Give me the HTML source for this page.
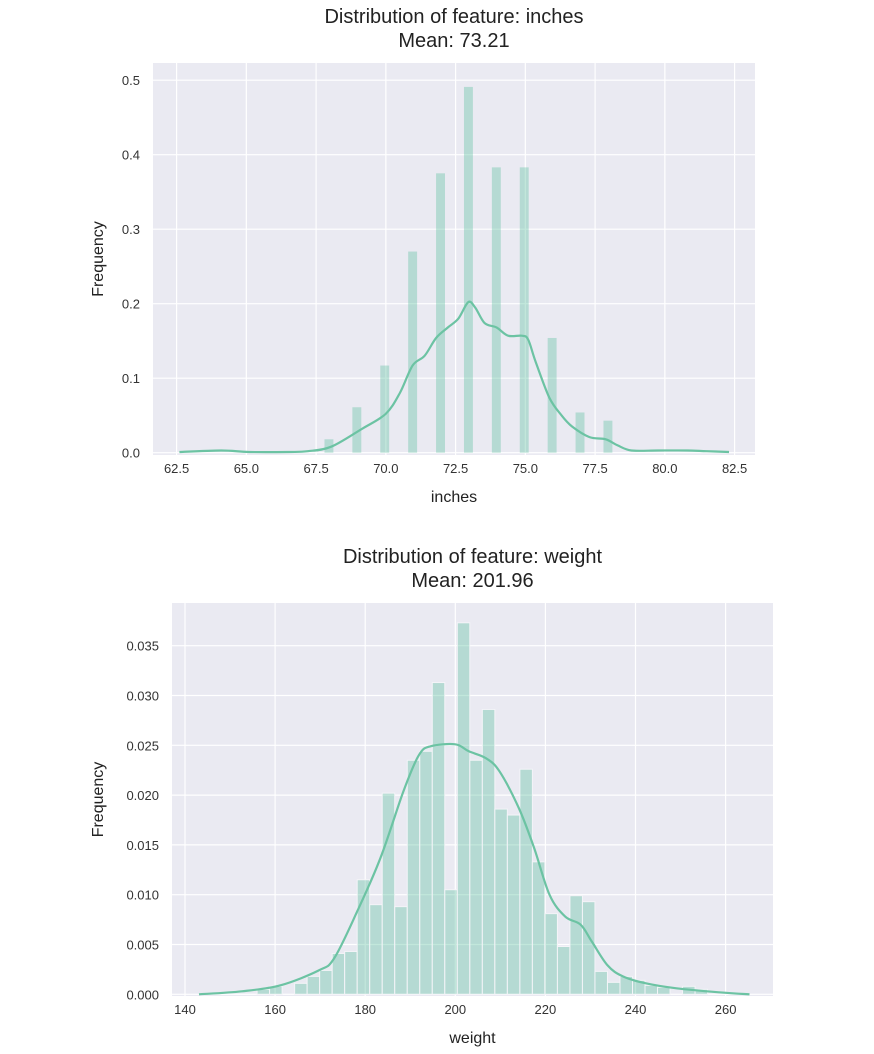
<!DOCTYPE html>
<html><head><meta charset="utf-8">
<style>
html,body{margin:0;padding:0;background:#fff;}
svg{display:block;font-family:"Liberation Sans",Arial,sans-serif;}
</style></head>
<body>
<svg id="chart" width="874" height="1054" viewBox="0 0 874 1054" xmlns="http://www.w3.org/2000/svg"></svg>
<script>
// ---- Chart 1 data (inches) ----
const inchesBins = [68,69,70,71,72,73,74,75,76,77,78];
const inchesHeights = [0.018,0.061,0.117,0.27,0.375,0.491,0.383,0.383,0.154,0.054,0.043];
const inchesKdeX = [62.6,64.1,65.1,66.5,67.2,68.04,69.14,69.99,70.5,70.96,71.39,71.8,72.22,72.6,72.95,73.2,73.54,73.97,74.38,74.87,75.1,75.36,75.86,76.3,76.68,77.3,77.88,78.3,78.8,79.75,80.8,81.5,82.3];
const inchesKdeY = [0.001,0.003,0.001,0.001,0.002,0.008,0.032,0.052,0.08,0.117,0.13,0.154,0.168,0.18,0.202,0.195,0.174,0.168,0.157,0.157,0.152,0.123,0.074,0.05,0.035,0.021,0.018,0.01,0.003,0.003,0.003,0.002,0.001];
const inchesXTicks = [62.5,65.0,67.5,70.0,72.5,75.0,77.5,80.0,82.5];
const inchesYTicks = [0.0,0.1,0.2,0.3,0.4,0.5];
const inchesYTickLabels = ["0.0","0.1","0.2","0.3","0.4","0.5"];

// ---- Chart 2 data (weight) ----
const weightBinStart = 156;
const weightBinWidth = 100/36;
const weightHeights = [0.0005,0.0008,0,0.0011,0.0018,0.0024,0.0041,0.0043,0.0115,0.009,0.0202,0.0088,0.0235,0.0244,0.0313,0.0105,0.0373,0.0235,0.0286,0.0186,0.018,0.0226,0.0133,0.0081,0.0048,0.0099,0.0093,0.0023,0.0012,0.0018,0.0014,0.0009,0.0007,0,0.0008,0.0005];
const weightKdeX = [143.1,152.6,161.2,169.7,173.1,178.2,183.4,188.5,191.9,194.5,200.0,203.0,206.8,209.8,214.1,217.5,220.9,224.4,227.8,230.3,233.8,237.2,242.3,249.1,258.5,265.3];
const weightKdeY = [0,0.0003,0.0009,0.0024,0.0036,0.0083,0.0137,0.0204,0.024,0.0249,0.0251,0.0244,0.0237,0.0224,0.0187,0.0147,0.01,0.0078,0.007,0.0053,0.0029,0.0018,0.0011,0.0006,0.0002,0];
const weightXTicks = [140,160,180,200,220,240,260];
const weightYTicks = [0,0.005,0.01,0.015,0.02,0.025,0.03,0.035];
const weightYTickLabels = ["0.000","0.005","0.010","0.015","0.020","0.025","0.030","0.035"];

const NS = "http://www.w3.org/2000/svg";
const svg = document.getElementById('chart');
function mk(tag, attrs, parent, text){
  const e = document.createElementNS(NS, tag);
  for (const k in attrs) e.setAttribute(k, attrs[k]);
  if (text !== undefined) e.textContent = text;
  (parent||svg).appendChild(e);
  return e;
}
function smoothPath(pts){
  let d = 'M' + pts[0][0].toFixed(1) + ' ' + pts[0][1].toFixed(1);
  for (let i = 0; i < pts.length - 1; i++){
    const p0 = pts[i-1] || pts[i], p1 = pts[i], p2 = pts[i+1], p3 = pts[i+2] || p2;
    const c1x = p1[0] + (p2[0]-p0[0])/6, c1y = p1[1] + (p2[1]-p0[1])/6;
    const c2x = p2[0] - (p3[0]-p1[0])/6, c2y = p2[1] - (p3[1]-p1[1])/6;
    d += ' C' + c1x.toFixed(1)+' '+c1y.toFixed(1)+' '+c2x.toFixed(1)+' '+c2y.toFixed(1)+' '+p2[0].toFixed(1)+' '+p2[1].toFixed(1);
  }
  return d;
}

function drawChart(cfg){
  const g = mk('g', {});
  
  
  const sx = v => cfg.x0px + (v - cfg.x0val) * cfg.pxPerX;
  const sy = v => cfg.y0px - v * cfg.pxPerY;
  const bg = mk('rect', {x:cfg.left, y:cfg.top, width:cfg.right-cfg.left, height:cfg.bottom-cfg.top, fill:'#eaeaf2'}, g);
  
  
  cfg.xTicks.forEach((t) => {
    const l = mk('line', {x1:sx(t), x2:sx(t), y1:cfg.top, y2:cfg.bottom, stroke:'#fff', 'stroke-width':1.2}, g);
    
    
    const tx = mk('text', {x:sx(t), y:cfg.bottom+18, 'text-anchor':'middle', 'font-size':13, fill:'#333'}, g, cfg.xFmt(t));
    
    
  });
  cfg.yTicks.forEach((t,i) => {
    const l = mk('line', {x1:cfg.left, x2:cfg.right, y1:sy(t), y2:sy(t), stroke:'#fff', 'stroke-width':1.2}, g);
    
    
    const tx = mk('text', {x:cfg.left-13, y:sy(t)+5, 'text-anchor':'end', 'font-size':13, fill:'#333'}, g, cfg.yLabels[i]);
    
    
  });
  cfg.bars.forEach(b => {
    if (b.h <= 0) return;
    const r = mk('rect', {x:sx(b.x0), y:sy(b.h), width:sx(b.x1)-sx(b.x0), height:sy(0)-sy(b.h), fill:'rgba(102,194,165,0.4)', stroke:cfg.barStroke, 'stroke-width':cfg.barStroke==='none'?0:1}, g);
    
    
  });
  const pts = cfg.kdeX.map((x,i) => [sx(x), sy(cfg.kdeY[i])]);
  const p = mk('path', {d:smoothPath(pts), fill:'none', stroke:'#6cc3a3', 'stroke-width':2.2, 'stroke-linejoin':'round'}, g);
  
  
  const cx = (cfg.left+cfg.right)/2;
  const t1 = mk('text', {x:cx, y:cfg.top-40, 'text-anchor':'middle', 'font-size':20, fill:'#222'}, g, cfg.title1);
  
  
  const t2 = mk('text', {x:cx, y:cfg.top-16, 'text-anchor':'middle', 'font-size':20, fill:'#222'}, g, cfg.title2);
  
  
  const xl = mk('text', {x:cx, y:cfg.bottom+47, 'text-anchor':'middle', 'font-size':16, fill:'#222'}, g, cfg.xLabel);
  
  
  const ym = (cfg.top+cfg.bottom)/2;
  const yl = mk('text', {x:cfg.yLabelX, y:ym, 'text-anchor':'middle', 'font-size':16, fill:'#222', transform:'rotate(-90 '+cfg.yLabelX+' '+ym+')'}, g, 'Frequency');
  
  
}

drawChart({
  name:'inches-chart', left:153, right:755, top:63, bottom:455,
  x0val:62.5, x0px:176.6, pxPerX:27.9, y0px:452.7, pxPerY:745,
  xTicks:inchesXTicks, xFmt:t=>t.toFixed(1), yTicks:inchesYTicks, yLabels:inchesYTickLabels,
  bars:inchesBins.map((b,i)=>({x0:b-0.2, x1:b+0.12, h:inchesHeights[i]})), barStroke:'none',
  kdeX:inchesKdeX, kdeY:inchesKdeY,
  title1:'Distribution of feature: inches', title2:'Mean: 73.21', xLabel:'inches', yLabelX:103
});
drawChart({
  name:'weight-chart', left:172, right:773, top:603, bottom:996,
  x0val:140, x0px:185, pxPerX:4.505, y0px:994.3, pxPerY:9960,
  xTicks:weightXTicks, xFmt:t=>String(t), yTicks:weightYTicks, yLabels:weightYTickLabels,
  bars:weightHeights.map((h,i)=>({x0:weightBinStart+i*weightBinWidth, x1:weightBinStart+(i+1)*weightBinWidth, h:h})), barStroke:'#f4f4f8',
  kdeX:weightKdeX, kdeY:weightKdeY,
  title1:'Distribution of feature: weight', title2:'Mean: 201.96', xLabel:'weight', yLabelX:103
});
</script>
</body></html>
